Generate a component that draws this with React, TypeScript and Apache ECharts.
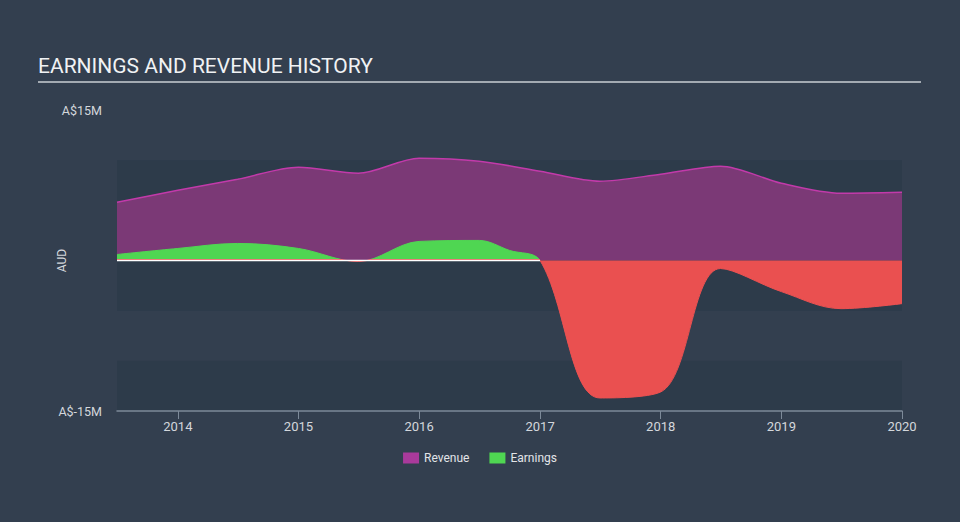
import React, { useEffect, useRef } from "react";
import * as echarts from "echarts";

const periods = [
  "2013-07-01", "2014-01-01", "2014-07-01", "2015-01-01", "2015-07-01",
  "2016-01-01", "2016-07-01", "2016-10-01", "2017-01-01", "2017-07-01",
  "2018-01-01", "2018-07-01", "2019-01-01", "2019-07-01", "2020-01-01",
];
const revenueValues = [
  5.8, 7.0, 8.1, 9.3, 8.7,
  10.2, 9.9, null, 8.9, 7.9,
  8.6, 9.4, 7.7, 6.7, 6.8,
];
const earningsValues = [
  0.6, 1.2, 1.7, 1.2, -0.1,
  1.9, 2.0, 1.0, 0.0, -13.7,
  -13.1, -0.8, -3.1, -4.8, -4.3,
];
const yTickLabels: Record<string, string> = { "15": "A$15M", "-15": "A$-15M" };
const xMin = "2013-07-01";
const xMax = "2020-01-01";
const zeroLineDates = ["2013-07-01", "2017-01-01"];
const zeroLineValues = [0, 0];

export default function App() {
  const ref = useRef<HTMLDivElement>(null);
  useEffect(() => {
    document.body.style.margin = "0";
    if (!ref.current) return;
    const chart = echarts.init(ref.current, null, { renderer: "svg" });
    const revData = periods
      .map((d, i) => [d, revenueValues[i]])
      .filter((p) => p[1] !== null);
    const earnData = periods.map((d, i) => [d, earningsValues[i]]);
    const zeroData = zeroLineDates.map((d, i) => [d, zeroLineValues[i]]);
    const axisText = { color: "#d3d7dc", fontSize: 12, fontFamily: "Roboto" };
    chart.setOption({
      animation: false,
      backgroundColor: "#333f4f",
      textStyle: { fontFamily: "Roboto" },
      title: {
        text: "EARNINGS AND REVENUE HISTORY",
        left: 38,
        top: 55,
        padding: 0,
        textStyle: { color: "#f0f2f4", fontSize: 21, fontWeight: "normal", fontFamily: "Roboto" },
      },
      graphic: [
        {
          type: "line",
          shape: { x1: 38, y1: 82, x2: 921, y2: 82 },
          style: { stroke: "#a3aab2", lineWidth: 2 },
        },
      ],
      legend: {
        top: 447,
        left: "center",
        itemWidth: 16,
        itemHeight: 11,
        itemGap: 20,
        icon: "rect",
        textStyle: { color: "#e2e4e8", fontSize: 12, fontFamily: "Roboto" },
        data: ["Revenue", "Earnings"],
      },
      grid: { left: 117, right: 58, top: 110, bottom: 111, containLabel: false },
      xAxis: {
        type: "time",
        min: xMin,
        max: xMax,
        splitNumber: 7,
        axisLine: { show: true, onZero: false, lineStyle: { color: "#7d8a99", width: 1.5 } },
        axisTick: { show: true, length: 8, lineStyle: { color: "#7d8a99" } },
        splitLine: { show: false },
        axisLabel: {
          ...axisText,
          fontSize: 13,
          margin: 9,
          showMaxLabel: true,
          hideOverlap: false,
          formatter: (val: number) => {
            const d = new Date(val);
            return d.getMonth() === 0 && d.getDate() === 1 ? String(d.getFullYear()) : "";
          },
        },
      },
      yAxis: {
        type: "value",
        min: -15,
        max: 15,
        interval: 5,
        name: "AUD",
        nameLocation: "middle",
        nameGap: 49,
        nameMoveOverlap: false,
        nameTextStyle: { ...axisText },
        axisLine: { show: false },
        axisTick: { show: false },
        splitLine: { show: false },
        splitArea: { show: true, areaStyle: { color: ["#2d3b4a", "rgba(0,0,0,0)"] } },
        axisLabel: {
          ...axisText,
          fontSize: 12.5,
          margin: 15,
          formatter: (v: number) => yTickLabels[String(v)] || "",
        },
      },
      visualMap: {
        show: false,
        type: "piecewise",
        seriesIndex: 1,
        dimension: 1,
        pieces: [
          { gt: 0.1, lte: 100, color: "#4fd652" },
          { gt: -100, lte: 0.1, color: "#ea5050" },
        ],
      },
      series: [
        {
          name: "Revenue",
          type: "line",
          data: revData,
          smooth: 0.3,
          symbol: "none",
          itemStyle: { color: "#a93a9b" },
          lineStyle: { color: "#c23aaa", width: 1.5 },
          areaStyle: { color: "#7b3976", opacity: 1 },
          z: 2,
        },
        {
          name: "Earnings",
          type: "line",
          data: earnData,
          smooth: 0.35,
          symbol: "none",
          itemStyle: { color: "#4fd652" },
          lineStyle: { width: 1 },
          areaStyle: { opacity: 1 },
          z: 3,
        },
        {
          name: "zero",
          type: "line",
          data: zeroData,
          symbol: "none",
          silent: true,
          lineStyle: { color: "#ffffff", width: 1.5 },
          z: 4,
        },
      ],
    });
    return () => chart.dispose();
  }, []);
  return <div ref={ref} style={{ width: 960, height: 522 }} />;
}
